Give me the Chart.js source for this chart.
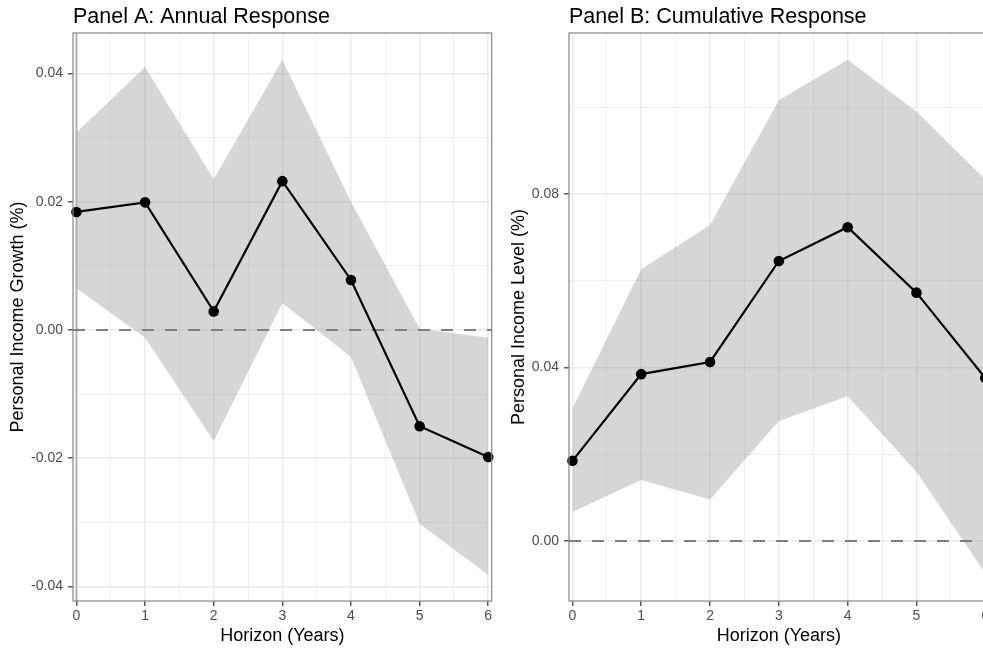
<!DOCTYPE html>
<html>
<head>
<meta charset="utf-8">
<script src="https://cdn.jsdelivr.net/npm/chart.js@4"></script>
<style>
  html, body { margin: 0; padding: 0; background: #fff; overflow: hidden; width: 983px; height: 649px; }
  .panel { position: absolute; top: 0; }
</style>
</head>
<body>
<div class="panel" style="left:0"><canvas id="panelA" width="497" height="649"></canvas></div>
<div class="panel" style="left:497px"><canvas id="panelB" width="497" height="649"></canvas></div>
<script>
// horizons (years)
const horizon = [0, 1, 2, 3, 4, 5, 6];

// Panel A: annual response of personal income growth
const annualEst = [0.0184, 0.0199, 0.0029, 0.0232, 0.0078, -0.0150, -0.0198];
const annualLo  = [0.0065, -0.0012, -0.0173, 0.0042, -0.0042, -0.0302, -0.0382];
const annualHi  = [0.0308, 0.0410, 0.0235, 0.0421, 0.0200, 0.0002, -0.0012];

// Panel B: cumulative response of personal income level
const cumEst = [0.0185, 0.0385, 0.0413, 0.0646, 0.0724, 0.0573, 0.0376];
const cumLo  = [0.0067, 0.0141, 0.0096, 0.0277, 0.0334, 0.0160, -0.0075];
const cumHi  = [0.0306, 0.0627, 0.0729, 0.1017, 0.1110, 0.0991, 0.0834];

// tick labels
const xTickLabels = ['0', '1', '2', '3', '4', '5', '6'];
const yTicksA = [-0.04, -0.02, 0.00, 0.02, 0.04];
const yTicksB = [0.00, 0.04, 0.08];

Chart.defaults.font.family = "'Liberation Sans', Arial, Helvetica, sans-serif";
Chart.defaults.color = '#4d4d4d';

const pts = (ys) => horizon.map((x, i) => ({ x: x, y: ys[i] }));
const near = (a, b) => Math.abs(a - b) < 1e-7;

function makePanel(id, opts) {
  const isMajorY = v => opts.yTicks.some(t => near(t, v));
  const isMajorX = v => near(v, Math.round(v));

  const overlay = {
    id: 'overlay' + id,
    beforeDatasetsDraw(chart) {
      if (!opts.vline0) return;
      const { ctx, chartArea } = chart;
      const x = chart.scales.x.getPixelForValue(0);
      ctx.save();
      ctx.strokeStyle = '#b5b5b5';
      ctx.lineWidth = 2;
      ctx.beginPath();
      ctx.moveTo(x, chartArea.top);
      ctx.lineTo(x, chartArea.bottom);
      ctx.stroke();
      ctx.restore();
    },
    afterDatasetDraw(chart, args) {
      if (args.index !== 1) return;
      const { ctx, chartArea } = chart;
      const y = chart.scales.y.getPixelForValue(0);
      ctx.save();
      ctx.strokeStyle = '#7f7f7f';
      ctx.lineWidth = 2.2;
      ctx.setLineDash([12, 11]);
      ctx.beginPath();
      ctx.moveTo(chartArea.left, y);
      ctx.lineTo(chartArea.right, y);
      ctx.stroke();
      ctx.restore();
    },
    afterDraw(chart) {
      const { ctx, chartArea } = chart;
      ctx.save();
      ctx.strokeStyle = '#858585';
      ctx.lineWidth = 1.2;
      ctx.strokeRect(chartArea.left, chartArea.top, chartArea.right - chartArea.left, chartArea.bottom - chartArea.top);
      ctx.restore();
    }
  };

  return new Chart(document.getElementById(id), {
    type: 'line',
    data: {
      datasets: [
        { data: pts(opts.lo), borderWidth: 0, pointRadius: 0, fill: false, order: 2 },
        { data: pts(opts.hi), borderWidth: 0, pointRadius: 0, fill: '-1',
          backgroundColor: 'rgba(153,153,153,0.4)', order: 1 },
        { data: pts(opts.est), borderColor: '#000', borderWidth: 2.2, pointRadius: 5.3,
          pointBackgroundColor: '#000', pointBorderWidth: 0, fill: false, order: 0, clip: 8 }
      ]
    },
    options: {
      responsive: false,
      animation: false,
      layout: { padding: { right: 4 } },
      plugins: {
        legend: { display: false },
        tooltip: { enabled: false },
        title: {
          display: true, text: opts.title, align: 'start', fullSize: false,
          color: '#000', font: { size: 21.5, weight: 'normal' },
          padding: { top: 4, bottom: 3.2 }
        }
      },
      scales: {
        x: {
          type: 'linear', min: -0.05, max: 6.05,
          afterFit: s => { s.height = 48; },
          border: { display: false },
          grid: {
            color: '#ebebeb',
            lineWidth: c => isMajorX(c.tick.value) ? 1.6 : 0.8,
            tickColor: c => isMajorX(c.tick.value) ? '#333' : 'rgba(0,0,0,0)',
            tickLength: 5, tickWidth: 1.2
          },
          ticks: {
            stepSize: 0.5, includeBounds: false, autoSkip: false, maxRotation: 0,
            padding: 2, font: { size: 14 }, color: '#4d4d4d',
            callback: v => isMajorX(v) ? xTickLabels[Math.round(v)] : ''
          },
          title: {
            display: true, text: 'Horizon (Years)', color: '#000',
            font: { size: 18 }, padding: { top: 0, bottom: 2 }
          }
        },
        y: {
          type: 'linear', min: opts.yMin, max: opts.yMax,
          afterFit: s => { s.width = opts.yWidth; },
          border: { display: false },
          grid: {
            color: '#ebebeb',
            lineWidth: c => isMajorY(c.tick.value) ? 1.6 : 0.8,
            tickColor: c => isMajorY(c.tick.value) ? '#333' : 'rgba(0,0,0,0)',
            tickLength: 5, tickWidth: 1.2
          },
          ticks: {
            stepSize: opts.yStep, includeBounds: false, autoSkip: false,
            padding: 5, font: { size: 14 }, color: '#4d4d4d',
            callback: v => isMajorY(v) ? v.toFixed(2) : ''
          },
          title: {
            display: true, text: opts.yTitle, color: '#000',
            font: { size: 18 }, padding: { top: opts.yTitlePad, bottom: 0 }
          }
        }
      }
    },
    plugins: [overlay]
  });
}

makePanel('panelA', {
  title: 'Panel A: Annual Response',
  yTitle: 'Personal Income Growth (%)',
  est: annualEst, lo: annualLo, hi: annualHi,
  yMin: -0.04225, yMax: 0.0463, yStep: 0.01, yTicks: yTicksA,
  yWidth: 73, yTitlePad: 7, vline0: true
});

makePanel('panelB', {
  title: 'Panel B: Cumulative Response',
  yTitle: 'Personal Income Level (%)',
  est: cumEst, lo: cumLo, hi: cumHi,
  yMin: -0.01384, yMax: 0.1172, yStep: 0.02, yTicks: yTicksB,
  yWidth: 72, yTitlePad: 11, vline0: false
});
</script>
</body>
</html>
